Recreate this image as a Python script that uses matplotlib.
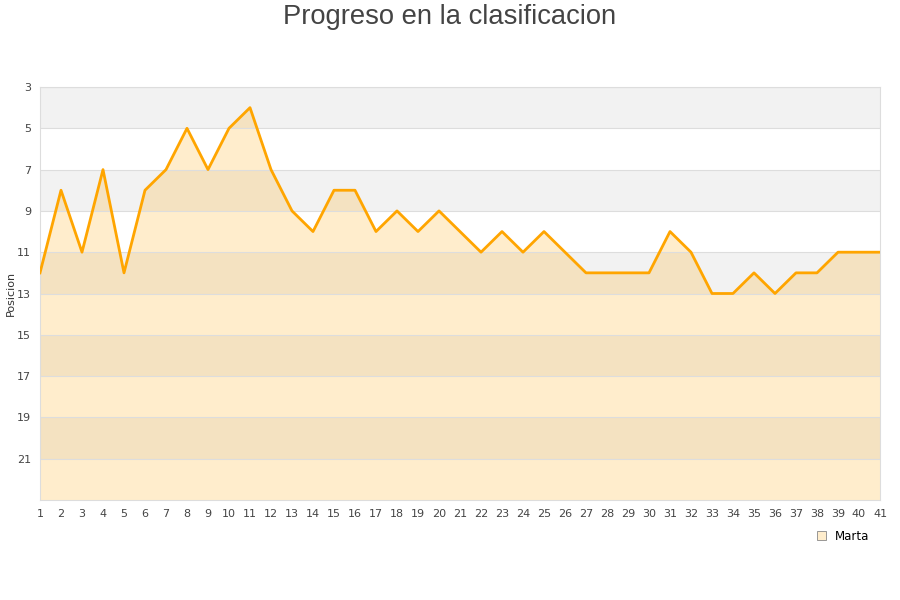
import matplotlib
matplotlib.use("Agg")
import matplotlib.pyplot as plt
from matplotlib.patches import Patch

jornadas = list(range(1, 42))
posiciones = [12, 8, 11, 7, 12, 8, 7, 5, 7, 5, 4, 7, 9, 10, 8, 8, 10, 9, 10, 9,
              10, 11, 10, 11, 10, 11, 12, 12, 12, 12, 10, 11, 13, 13, 12, 13, 12, 12, 11, 11, 11]
y_ticks = [3, 5, 7, 9, 11, 13, 15, 17, 19, 21]
titulo = "Progreso en la clasificacion"
serie = "Marta"

plt.rcParams['font.family'] = ['DejaVu Sans']
fig = plt.figure(figsize=(9, 6), dpi=100)
ax = fig.add_axes([40/900, 1-500/600, 840/900, 413/600])

y_min, y_max = 3, 23
# alternating bands
for i, lo in enumerate(range(y_min, y_max, 2)):
    if i % 2 == 0:
        ax.axhspan(lo, lo + 2, color='#f2f2f2', zorder=0, lw=0)

ax.fill_between(jornadas, posiciones, y_max, color='#FFA500', alpha=0.2, lw=0, zorder=1)
ax.plot(jornadas, posiciones, color='#FFA500', lw=2, zorder=3)

ax.set_xlim(1, 41)
ax.set_ylim(y_max, y_min)
ax.set_yticks(y_ticks)
ax.set_xticks(jornadas)
ax.grid(axis='y', color='#dddddd', lw=0.8, zorder=2)
ax.set_axisbelow(False)
for s in ax.spines.values():
    s.set_color('#dddddd')
ax.tick_params(axis='both', length=0, labelsize=8, colors='#444444')
ax.tick_params(axis='y', pad=6.5)
ax.tick_params(axis='x', pad=6.5)
ax.set_ylabel('Posicion', fontsize=8, color='#333333')
ax.yaxis.set_label_coords(-24/840, 0.5)

fig.text(0.5, 1-17/600, titulo, ha='center', va='center', fontsize=19.7,
         color='#444444', family=['Liberation Sans', 'DejaVu Sans'])

handle = Patch(facecolor='#ffedcc', edgecolor='#888888', lw=0.6)
fig.legend([handle], [serie], loc='center', bbox_to_anchor=(843/900, 1-536/600),
           frameon=False, fontsize=8.5, handlelength=0.8, handleheight=0.8, handletextpad=0.7)

fig.savefig('out.png', dpi=100)
